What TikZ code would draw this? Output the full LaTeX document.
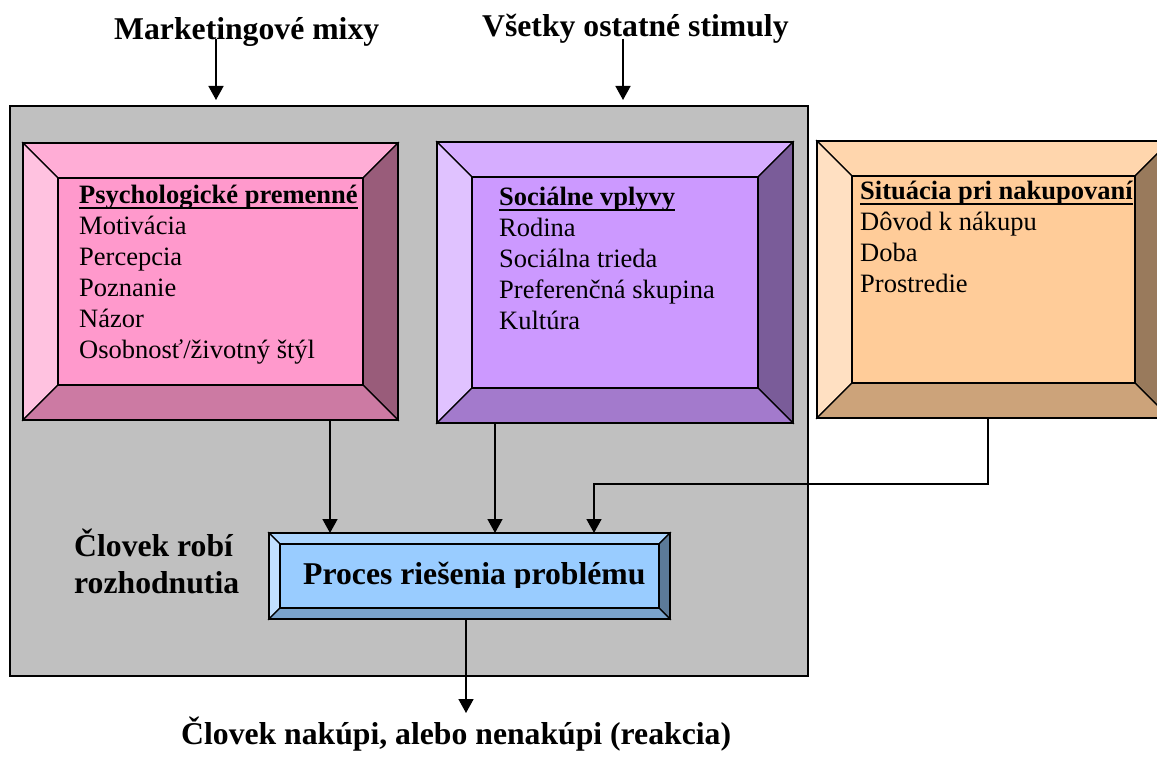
\documentclass[tikz,border=0pt]{standalone}
\usepackage{fontspec}
\setmainfont{Liberation Serif}
\usetikzlibrary{calc,arrows.meta}

\definecolor{frameGray}{HTML}{C0C0C0}
\definecolor{psyFace}{HTML}{FF99CC}
\definecolor{socFace}{HTML}{CC99FF}
\definecolor{sitFace}{HTML}{FFCC99}
\definecolor{procFace}{HTML}{99CCFF}

% bold heading with a Word-style underline that cuts through descenders
\newcommand\headline[1]{{\bfseries\sbox0{#1}\rlap{\rule[-5pt]{\wd0}{2.4pt}}\usebox0}}

% bevelled panel drawn around an existing rectangular node
% #1 node name, #2 bevel depth, #3 face colour
\newcommand\bevelbox[3]{%
  \path (#1.north west) coordinate (#1-A) (#1.north east) coordinate (#1-B)
        (#1.south east) coordinate (#1-C) (#1.south west) coordinate (#1-D);
  \coordinate (#1-a) at ($(#1-A)+(#2,#2)$);
  \coordinate (#1-b) at ($(#1-B)+(-#2,#2)$);
  \coordinate (#1-c) at ($(#1-C)+(-#2,-#2)$);
  \coordinate (#1-d) at ($(#1-D)+(#2,-#2)$);
  \begin{scope}[line width=1.2pt, line join=miter]
    \filldraw[fill=#3!80!white] (#1-A)--(#1-B)--(#1-b)--(#1-a)--cycle;
    \filldraw[fill=#3!60!white] (#1-A)--(#1-a)--(#1-d)--(#1-D)--cycle;
    \filldraw[fill=#3!60!black] (#1-B)--(#1-C)--(#1-c)--(#1-b)--cycle;
    \filldraw[fill=#3!80!black] (#1-D)--(#1-d)--(#1-c)--(#1-C)--cycle;
    \filldraw[fill=#3] (#1-a) rectangle (#1-c);
  \end{scope}
  \draw[line width=1.8pt] (#1-A) rectangle (#1-C);
}

\tikzset{
  panel/.style={anchor=north west, inner sep=0pt, outer sep=0pt},
  flow/.style={line width=1.6pt, -{Triangle[width=15pt,length=14pt]}},
  bigtext/.style={anchor=base west, inner sep=0pt,
    font=\bfseries\fontsize{31.7}{37}\selectfont},
  listtext/.style={anchor=base west, inner sep=0pt,
    font=\fontsize{26.5}{31}\selectfont},
}

\begin{document}
\begin{tikzpicture}[x=1pt,y=-1pt]
\clip (0,0) rectangle (1157,762);
\fill[white] (0,0) rectangle (1157,762);

% the consumer frame
\node[panel, draw, line width=2pt, fill=frameGray,
      minimum width=798pt, minimum height=570pt] (frame) at (10,106) {};

% bevelled panels
\node[panel, minimum width=375pt, minimum height=277pt] (psy) at (23,143) {};
\bevelbox{psy}{35}{psyFace}
\node[panel, minimum width=356pt, minimum height=281pt] (soc) at (437,142) {};
\bevelbox{soc}{35}{socFace}
\node[panel, minimum width=353pt, minimum height=277pt] (sit) at (817,141) {};
\bevelbox{sit}{35}{sitFace}
\node[panel, minimum width=401pt, minimum height=86pt] (proc) at (269,533) {};
\bevelbox{proc}{11}{procFace}

% panel texts
\node[listtext] (psytxt) at (79,204) {\begin{tabular}[t]{@{}l@{}}
  \headline{Psychologické premenné}\\ Motivácia\\ Percepcia\\ Poznanie\\
  Názor\\ Osobnosť/životný štýl\end{tabular}};
\node[listtext] (soctxt) at (499,206) {\begin{tabular}[t]{@{}l@{}}
  \headline{Sociálne vplyvy}\\ Rodina\\ Sociálna trieda\\
  Preferenčná skupina\\ Kultúra\end{tabular}};
\begin{scope}
  \clip (sit-a) rectangle (sit-c);
  \node[listtext] (sittxt) at (860,200) {\begin{tabular}[t]{@{}l@{}}
    \headline{Situácia pri nakupovaní}\\ Dôvod k nákupu\\ Doba\\
    Prostredie\end{tabular}};
\end{scope}
\begin{scope}
  \clip (proc-a) rectangle (660,587);
  \node[bigtext] (proctxt) at (303,584) {Proces riešenia problému};
\end{scope}

% free labels
\node[bigtext] (mix) at (114,40) {Marketingové mixy};
\node[bigtext] (stim) at (482,37) {Všetky ostatné stimuly};
\node[bigtext] (decide) at (74,556) {\begin{tabular}[t]{@{}l@{}}Človek robí\\ rozhodnutia\end{tabular}};
\node[bigtext] (react) at (181,744) {Človek nakúpi, alebo nenakúpi (reakcia)};

% connectors
\coordinate (mixx) at (216,39);
\coordinate (stimx) at (623,39);
\coordinate (psyx) at (330,0);
\coordinate (socx) at (495,0);
\coordinate (sitbend) at (988,484);
\coordinate (procbend) at (594,484);
\coordinate (reacttip) at (466,713);

\draw[flow, shorten >=6pt] (mixx) -- (mixx |- frame.north);
\draw[flow, shorten >=6pt] (stimx) -- (stimx |- frame.north);
\draw[flow] (psy.south -| psyx) -- (proc.north -| psyx);
\draw[flow] (soc.south -| socx) -- (proc.north -| socx);
\draw[flow] (sit.south -| sitbend) -- (sitbend) -- (procbend) -- (proc.north -| procbend);
\draw[flow] (proc.south -| reacttip) -- (reacttip);
\end{tikzpicture}
\end{document}
